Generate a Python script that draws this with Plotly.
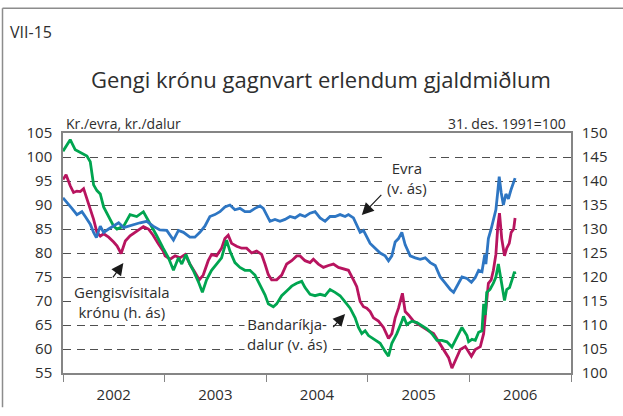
import plotly.graph_objects as go

# Króna exchange rates, 2002 - mid 2006
eur_dates = [
    "2002-01-01", "2002-01-15", "2002-02-02", "2002-02-20", "2002-03-10", "2002-03-22", "2002-04-09",
    "2002-04-21", "2002-05-01", "2002-05-15", "2002-05-27", "2002-06-14", "2002-07-02", "2002-07-20",
    "2002-08-07", "2002-08-25", "2002-09-11", "2002-10-05", "2002-10-29", "2002-11-21", "2002-12-15",
    "2003-01-09", "2003-02-02", "2003-02-20", "2003-03-10", "2003-04-02", "2003-04-20", "2003-05-08",
    "2003-05-26", "2003-06-13", "2003-07-01", "2003-07-19", "2003-08-06", "2003-08-24", "2003-09-11",
    "2003-09-29", "2003-10-17", "2003-11-04", "2003-11-22", "2003-12-10", "2003-12-22",
    "2004-01-03", "2004-01-15", "2004-02-02", "2004-02-20", "2004-03-09", "2004-03-27", "2004-04-14",
    "2004-05-02", "2004-05-20", "2004-06-07", "2004-06-25", "2004-07-13", "2004-07-31", "2004-08-18",
    "2004-09-05", "2004-09-23", "2004-10-11", "2004-10-23", "2004-11-10", "2004-11-22", "2004-12-04",
    "2004-12-16",
    "2005-01-09", "2005-01-27", "2005-02-14", "2005-03-04", "2005-03-16", "2005-03-28", "2005-04-09",
    "2005-04-21", "2005-05-03", "2005-05-15", "2005-06-02", "2005-06-20", "2005-07-08", "2005-07-26",
    "2005-08-13", "2005-08-31", "2005-09-18", "2005-10-06", "2005-10-24", "2005-11-05", "2005-11-17",
    "2005-12-05", "2005-12-23",
    "2006-01-08", "2006-01-22", "2006-02-03", "2006-02-15", "2006-02-25", "2006-03-01", "2006-03-10",
    "2006-03-20", "2006-03-28", "2006-04-06", "2006-04-12", "2006-04-18", "2006-04-25", "2006-05-03",
    "2006-05-12", "2006-05-21", "2006-05-31", "2006-06-09", "2006-06-14",
]
eur_values = [
    91.5, 90.6, 89.3, 88.0, 88.6, 87.6, 86.0, 84.3, 83.2, 85.6, 84.3, 85.0, 85.6, 86.3, 85.3, 85.6,
    86.0, 86.3, 86.6, 85.6, 84.8,
    84.7, 82.7, 84.7, 84.3, 83.3, 83.3, 84.3, 85.6, 87.6, 88.0, 88.6, 89.6, 90.0, 89.0, 89.3, 88.6,
    88.6, 89.3, 89.8, 89.3,
    88.0, 86.6, 87.0, 86.6, 87.0, 87.6, 87.3, 88.0, 87.6, 88.3, 88.6, 87.3, 86.6, 87.6, 87.6, 88.0,
    87.6, 88.0, 87.3, 85.6, 84.3, 84.7,
    82.0, 81.0, 80.0, 79.4, 78.4, 79.4, 82.3, 83.0, 84.3, 81.7, 79.4, 79.0, 78.7, 79.0, 78.0, 77.4,
    75.0, 73.7, 72.4, 71.8, 73.1, 75.0, 74.7,
    73.9, 74.9, 76.4, 76.1, 79.7, 77.7, 83.0, 85.0, 87.0, 89.0, 92.3, 95.9, 92.6, 90.0, 92.3, 91.3,
    93.3, 94.9, 95.6,
]

usd_dates = [
    "2002-01-01", "2002-01-15", "2002-01-27", "2002-02-14", "2002-03-04", "2002-03-28", "2002-04-09",
    "2002-04-21", "2002-05-03", "2002-05-15", "2002-05-27", "2002-06-14", "2002-07-02", "2002-07-14",
    "2002-08-07", "2002-08-30", "2002-09-23", "2002-10-17", "2002-11-09", "2002-12-03", "2002-12-27",
    "2003-01-15", "2003-02-02", "2003-02-20", "2003-03-04", "2003-03-19", "2003-04-02", "2003-04-14",
    "2003-05-02", "2003-05-17", "2003-06-01", "2003-06-19", "2003-07-07", "2003-07-25", "2003-08-12",
    "2003-08-24", "2003-09-11", "2003-09-29", "2003-10-17", "2003-11-04", "2003-11-22", "2003-12-10",
    "2003-12-28",
    "2004-01-09", "2004-01-27", "2004-02-08", "2004-02-26", "2004-03-15", "2004-04-02", "2004-04-20",
    "2004-05-08", "2004-05-20", "2004-06-07", "2004-06-25", "2004-07-13", "2004-07-31", "2004-08-18",
    "2004-09-05", "2004-09-23", "2004-10-11", "2004-10-29", "2004-11-16", "2004-11-28", "2004-12-10",
    "2004-12-22",
    "2005-01-03", "2005-01-27", "2005-02-14", "2005-03-04", "2005-03-16", "2005-03-28", "2005-04-15",
    "2005-05-03", "2005-05-09", "2005-05-21", "2005-06-08", "2005-06-26", "2005-07-14", "2005-08-01",
    "2005-08-19", "2005-09-06", "2005-09-24", "2005-10-12", "2005-10-30", "2005-11-17", "2005-12-05",
    "2005-12-23", "2005-12-29",
    "2006-01-10", "2006-01-22", "2006-02-03", "2006-02-15", "2006-02-21", "2006-02-27", "2006-03-04",
    "2006-03-16", "2006-03-28", "2006-04-06", "2006-04-15", "2006-04-25", "2006-05-07", "2006-05-15",
    "2006-05-25", "2006-06-03", "2006-06-12", "2006-06-14",
]
usd_values = [
    101.2, 102.6, 103.6, 101.5, 101.0, 100.2, 99.0, 94.2, 93.0, 92.3, 89.6, 87.6, 85.6, 85.0, 85.6,
    88.0, 87.6, 88.6, 86.3, 83.7, 81.0,
    79.0, 76.4, 79.0, 77.7, 79.7, 77.7, 76.4, 74.1, 71.8, 74.4, 76.4, 77.7, 79.0, 82.7, 80.4, 78.0,
    77.0, 76.4, 76.4, 75.4, 73.4, 71.3,
    69.4, 68.8, 69.4, 71.1, 72.1, 73.1, 73.7, 74.1, 72.8, 71.4, 71.1, 71.4, 71.1, 72.4, 71.8, 71.1,
    69.8, 68.5, 66.5, 64.5, 63.2, 63.8,
    62.8, 61.8, 61.2, 59.5, 58.5, 61.2, 63.2, 65.8, 66.8, 65.1, 65.8, 65.5, 64.8, 64.2, 63.2, 61.8,
    61.8, 61.5, 60.4, 62.5, 64.5, 62.8, 61.5,
    62.0, 61.8, 63.5, 63.8, 69.4, 67.1, 71.8, 72.4, 73.7, 75.0, 77.7, 74.4, 70.1, 72.4, 72.8, 74.4,
    76.1, 75.6,
]

# Gengisvísitala krónu (31. des. 1991 = 100), right-hand axis
idx_dates = [
    "2002-01-01", "2002-01-12", "2002-01-27", "2002-02-08", "2002-02-20", "2002-03-04", "2002-03-16",
    "2002-03-28", "2002-04-09", "2002-04-21", "2002-05-03", "2002-05-15", "2002-05-27", "2002-06-14",
    "2002-07-02", "2002-07-14", "2002-07-29", "2002-08-13", "2002-08-30", "2002-09-23", "2002-10-17",
    "2002-11-04", "2002-11-21", "2002-12-09", "2002-12-27",
    "2003-01-03", "2003-01-21", "2003-02-08", "2003-02-26", "2003-03-16", "2003-04-02", "2003-04-20",
    "2003-05-06", "2003-05-20", "2003-06-07", "2003-06-19", "2003-07-07", "2003-07-25", "2003-08-06",
    "2003-08-18", "2003-08-30", "2003-09-17", "2003-10-05", "2003-10-23", "2003-11-10", "2003-11-28",
    "2003-12-16", "2003-12-28",
    "2004-01-09", "2004-01-21", "2004-02-08", "2004-02-26", "2004-03-15", "2004-04-02", "2004-04-20",
    "2004-05-02", "2004-05-20", "2004-06-07", "2004-06-19", "2004-07-07", "2004-07-25", "2004-08-12",
    "2004-08-30", "2004-09-17", "2004-10-05", "2004-10-23", "2004-11-10", "2004-11-22", "2004-12-04",
    "2004-12-16", "2004-12-28",
    "2005-01-09", "2005-01-21", "2005-02-08", "2005-02-26", "2005-03-16", "2005-03-28", "2005-04-09",
    "2005-04-21", "2005-05-05", "2005-05-15", "2005-05-27", "2005-06-14", "2005-07-02", "2005-07-20",
    "2005-08-07", "2005-08-25", "2005-09-12", "2005-09-30", "2005-10-18", "2005-10-30", "2005-11-11",
    "2005-11-29", "2005-12-17", "2005-12-29",
    "2006-01-08", "2006-01-22", "2006-02-09", "2006-02-21", "2006-03-01", "2006-03-10", "2006-03-20",
    "2006-03-28", "2006-04-06", "2006-04-13", "2006-04-19", "2006-04-27", "2006-05-07", "2006-05-15",
    "2006-05-24", "2006-05-31", "2006-06-09", "2006-06-14",
]
idx_values = [
    140.3, 141.3, 139.0, 137.6, 137.9, 137.8, 138.4, 136.4, 134.0, 132.0, 129.3, 128.5, 129.0, 128.3,
    127.3, 126.5, 124.9, 127.5, 128.6, 129.6, 130.5, 130.0, 128.7, 127.0, 125.4,
    124.4, 123.7, 124.4, 124.0, 124.7, 122.7, 121.0, 119.4, 120.4, 123.4, 124.7, 124.4, 126.0, 128.0,
    128.7, 127.0, 126.4, 126.0, 126.0, 125.0, 125.4, 124.7, 122.7,
    120.5, 119.4, 119.4, 120.4, 122.7, 123.4, 124.4, 124.4, 123.4, 123.0, 123.7, 122.7, 122.0, 122.4,
    122.7, 122.0, 121.7, 121.4, 119.4, 118.0, 114.9, 113.8, 113.5,
    112.8, 111.5, 110.8, 109.5, 107.2, 108.2, 111.5, 113.5, 116.6, 112.8, 112.1, 110.8, 110.1, 109.5,
    108.8, 108.2, 106.5, 104.9, 103.2, 101.0, 102.5, 104.9, 105.5, 104.5,
    103.5, 104.9, 105.5, 108.2, 113.5, 118.7, 119.4, 121.4, 124.7, 130.6, 133.3, 128.0, 124.4, 126.0,
    127.0, 129.3, 130.0, 132.3,
]

left_ticks = [55, 60, 65, 70, 75, 80, 85, 90, 95, 100, 105]
right_ticks = [100, 105, 110, 115, 120, 125, 130, 135, 140, 145, 150]

BLUE = "#2e76c3"
RED = "#b8145f"
GREEN = "#00a550"
AXIS = "#858585"
TEXT = "#2e2e2e"
FONT = "Open Sans"

W, H = 623, 416
L, R, T, B = 63, 52, 133, 31
PW, PH = W - L - R, H - T - B


def px(x):
    return (x - L) / PW


def py(y):
    return (H - B - y) / PH


fig = go.Figure()
fig.add_trace(go.Scatter(x=idx_dates, y=idx_values, yaxis="y", mode="lines",
                         line=dict(color=RED, width=2.8), name="Gengisvísitala krónu"))
fig.add_trace(go.Scatter(x=usd_dates, y=usd_values, yaxis="y2", mode="lines",
                         line=dict(color=GREEN, width=2.8), name="Bandaríkjadalur"))
fig.add_trace(go.Scatter(x=eur_dates, y=eur_values, yaxis="y2", mode="lines",
                         line=dict(color=BLUE, width=2.8), name="Evra"))

fig.update_layout(
    width=W, height=H,
    margin=dict(l=L, r=R, t=T, b=B, pad=0),
    paper_bgcolor="white", plot_bgcolor="white",
    showlegend=False,
    font=dict(family=FONT, color=TEXT),
    xaxis=dict(
        type="date", range=["2002-01-01", "2007-01-01"],
        tick0="2002-01-01", dtick="M12", tickformat="%Y", ticklabelmode="period",
        ticks="outside", ticklen=7, tickwidth=1.3, tickcolor=AXIS,
        showline=True, linecolor=AXIS, linewidth=1.5, mirror=True,
        showgrid=False, zeroline=False,
        tickfont=dict(size=15, color=TEXT, family=FONT),
    ),
    yaxis=dict(
        side="right", range=[100, 150], tickvals=right_ticks,
        showgrid=False, zeroline=False, ticks="",
        showline=True, linecolor=AXIS, linewidth=1.5,
        ticklabelstandoff=6,
        tickfont=dict(size=15, color=TEXT, family=FONT),
    ),
    yaxis2=dict(
        side="left", overlaying="y", range=[55, 105], tickvals=left_ticks,
        showgrid=True, gridcolor="#4f4f4f", gridwidth=1.2, griddash="8px,5.5px",
        zeroline=False, ticks="",
        showline=True, linecolor=AXIS, linewidth=1.5,
        ticklabelstandoff=6,
        tickfont=dict(size=15, color=TEXT, family=FONT),
    ),
)

# Outer frame (left and top edges)
fig.add_shape(type="line", xref="paper", yref="paper", x0=px(2.5), x1=px(2.5), y0=py(2), y1=py(H + 5),
              line=dict(color="#8c8c8c", width=1.5))
fig.add_shape(type="line", xref="paper", yref="paper", x0=px(2.5), x1=px(W + 5), y0=py(2), y1=py(2),
              line=dict(color="#8c8c8c", width=1.5))

texts = [
    dict(text="VII-15", x=px(8), y=py(27), xanchor="left", size=16),
    dict(text="Gengi krónu gagnvart erlendum gjaldmiðlum", x=px(321), y=py(76), xanchor="center", size=22),
    dict(text="Kr./evra, kr./dalur", x=px(64), y=py(123), xanchor="left", size=14),
    dict(text="31. des. 1991=100", x=px(568), y=py(123), xanchor="right", size=14),
]
for t in texts:
    fig.add_annotation(text=t["text"], xref="paper", yref="paper", x=t["x"], y=t["y"],
                       xanchor=t["xanchor"], yanchor="middle", showarrow=False,
                       font=dict(size=t["size"], color=TEXT, family=FONT))

labels = [
    dict(text="Evra<br>(v. ás)", x=407, y=180),
    dict(text="Gengisvísitala<br>krónu (h. ás)", x=122, y=310.5),
    dict(text="Bandaríkja-<br>dalur (v. ás)", x=287, y=344.5),
]
for lb in labels:
    fig.add_annotation(text=lb["text"], xref="paper", yref="paper", x=px(lb["x"]), y=py(lb["y"]),
                       xanchor="center", yanchor="middle", align="center", showarrow=False,
                       bgcolor="white", borderpad=2,
                       font=dict(size=15, color=TEXT, family=FONT))

arrows = [
    dict(x="2004-12-10", y=87.9, ax=21, ay=-21.7),
    dict(x="2002-08-06", y=77.9, ax=-11.6, ay=15.7),
    dict(x="2004-10-11", y=67.3, ax=-13.3, ay=14.6),
]
for a in arrows:
    fig.add_annotation(text="", xref="x", yref="y2", x=a["x"], y=a["y"],
                       axref="pixel", ayref="pixel", ax=a["ax"], ay=a["ay"],
                       showarrow=True, arrowhead=2, arrowsize=2.0, arrowwidth=1.2,
                       arrowcolor="#1a1a1a")

fig.write_html("out.html")
